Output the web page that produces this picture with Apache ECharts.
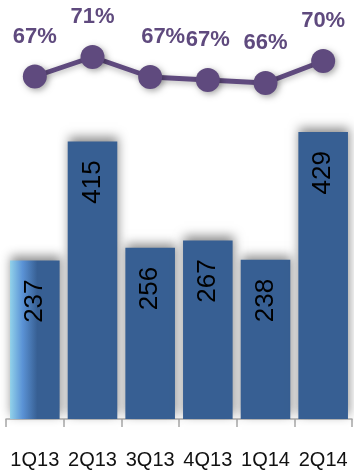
<!DOCTYPE html>
<html><head><meta charset="utf-8">
<style>html,body{margin:0;padding:0;background:#fff}#c{width:354px;height:472px}</style>
<script src="https://cdn.jsdelivr.net/npm/echarts@6/dist/echarts.min.js"></script>
</head><body><div id="c"></div>
<script>
const categories = ['1Q13','2Q13','3Q13','4Q13','1Q14','2Q14'];
const barValues = [237, 415, 256, 267, 238, 429];
const pctValues = [67.1, 71, 67, 66.4, 65.8, 70.2];
const pctLabels = ['67%','71%','67%','67%','66%','70%'];

const chart = echarts.init(document.getElementById('c'));
const barColor = '#375f93';
const barData = barValues.map((v, i) => i === 0 ? {
  value: v,
  itemStyle: { color: new echarts.graphic.LinearGradient(0, 0, 1, 0, [
    { offset: 0, color: '#92d2ea' },
    { offset: 0.25, color: '#5b93d6' },
    { offset: 0.55, color: barColor },
    { offset: 1, color: barColor }
  ]) }
} : v);
const lineData = pctValues.map((v, i) => ({
  value: v,
  label: { formatter: pctLabels[i], offset: i === 2 ? [13, 0] : [0, 0] }
}));

chart.setOption({
  animation: false,
  grid: [
    { left: 6, right: 2, top: 118, bottom: 53 },
    { left: 6, right: 2, top: 12, height: 100 }
  ],
  xAxis: [
    { type: 'category', data: categories, gridIndex: 0,
      axisLine: { lineStyle: { color: '#b0b0b0', width: 1.5 } },
      axisTick: { show: true, length: 8, interval: 0, lineStyle: { color: '#a6a6a6', width: 1.5 } },
      axisLabel: { color: '#111', fontSize: 20, margin: 31, interval: 0, fontFamily: 'Liberation Sans' } },
    { type: 'category', data: categories, gridIndex: 1, show: false }
  ],
  yAxis: [
    { type: 'value', gridIndex: 0, min: 0, max: 450, show: false, splitLine: { show: false } },
    { type: 'value', gridIndex: 1, min: 60, max: 80, show: false, splitLine: { show: false } }
  ],
  series: [
    { type: 'bar', xAxisIndex: 0, yAxisIndex: 0, data: barData, barWidth: '86%',
      itemStyle: { color: barColor, shadowBlur: 10, shadowColor: 'rgba(0,0,0,0.45)', shadowOffsetY: -4, shadowOffsetX: 1 },
      label: { show: true, position: 'insideTop', distance: 19, rotate: 90, align: 'right', verticalAlign: 'middle',
        color: '#000', fontSize: 26, fontFamily: 'Liberation Sans' } },
    { type: 'line', xAxisIndex: 1, yAxisIndex: 1, data: lineData,
      symbol: 'circle', symbolSize: 24,
      lineStyle: { color: '#5f4a7e', width: 5, shadowBlur: 6, shadowColor: 'rgba(0,0,0,0.3)', shadowOffsetY: 2 },
      itemStyle: { color: '#5f4a7e', shadowBlur: 6, shadowColor: 'rgba(0,0,0,0.35)', shadowOffsetY: 2, shadowOffsetX: 2 },
      label: { show: true, position: 'top', distance: 17, color: '#5f4a7e', fontSize: 22, fontWeight: 'bold', fontFamily: 'Liberation Sans' } }
  ]
});
</script></body></html>
